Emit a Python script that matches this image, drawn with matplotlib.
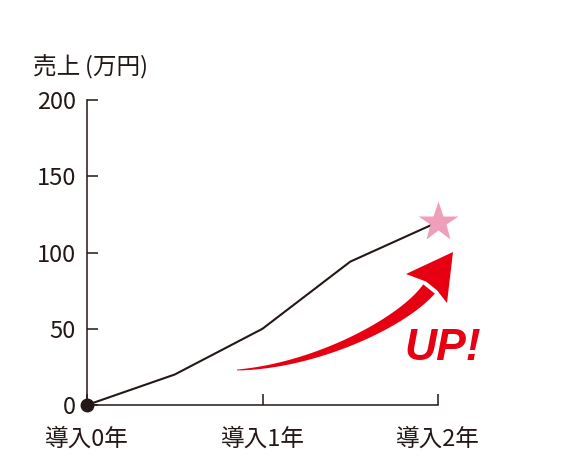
import numpy as np
import matplotlib
matplotlib.use("Agg")
import matplotlib.pyplot as plt
from matplotlib.patches import Polygon
from matplotlib.transforms import Affine2D

plt.rcParams['font.family'] = ['Noto Sans CJK JP', 'DejaVu Sans']

# data
years = [0, 0.5, 1, 1.5, 2]
sales = [0, 20, 50, 94, 120]
xtick_pos = [0, 1, 2]
xtick_labels = ['導入0年', '導入1年', '導入2年']
ytick_pos = [0, 50, 100, 150, 200]
ylabel = '売上\u2009(万円)'

INK = '#231815'
RED = '#e60012'
PINK = '#ef9fba'

W, H = 567, 472
fig = plt.figure(figsize=(W / 100, H / 100), dpi=100)
# axes placed in pixel geometry
L, R, T, B = 87, 438, 100, 405
ax = fig.add_axes([L / W, 1 - B / H, (R - L) / W, (B - T) / H])
ax.set_xlim(0, 2)
ax.set_ylim(0, 200)
for s in ['top', 'right']:
    ax.spines[s].set_visible(False)
for s in ['left', 'bottom']:
    ax.spines[s].set_color(INK)
    ax.spines[s].set_linewidth(1.1)

ax.set_xticks(xtick_pos)
ax.set_xticklabels(xtick_labels)
ax.set_yticks(ytick_pos)
ax.tick_params(axis='both', direction='in', length=8, width=1.1, color=INK,
               labelcolor=INK, labelsize=17)
ax.tick_params(axis='y', pad=8)
ax.tick_params(axis='x', pad=16)

ax.plot(years, sales, color=INK, lw=1.5, zorder=3, clip_on=False)
ax.plot([years[0]], [sales[0]], 'o', color=INK, ms=9, zorder=5, clip_on=False)
ax.plot([years[-1]], [sales[-1]], '*', color=PINK, ms=30, mec='none',
        zorder=6, clip_on=False)

fig.text(33 / W, 1 - 67 / H, ylabel, fontsize=17, color=INK,
         ha='left', va='center')

# decorative tapered "UP" arrow, in pixel space (y down)
pix = Affine2D().scale(1 / W, -1 / H).translate(0, 1) + fig.transFigure
P0 = np.array([237, 370.0])
P1 = np.array([315, 366.0])
P2 = np.array([402, 323.0])
P3 = np.array([429, 289.0])
t = np.linspace(0, 1, 120)[:, None]
curve = (1 - t) ** 3 * P0 + 3 * (1 - t) ** 2 * t * P1 + 3 * (1 - t) * t ** 2 * P2 + t ** 3 * P3
d = 3 * (1 - t) ** 2 * (P1 - P0) + 6 * (1 - t) * t * (P2 - P1) + 3 * t ** 2 * (P3 - P2)
d = d / np.linalg.norm(d, axis=1, keepdims=True)
nrm = np.column_stack([d[:, 1], -d[:, 0]])
wid = (0.8 + 14 * t[:, 0] ** 0.9) / 2
upper = curve + nrm * wid[:, None]
lower = curve - nrm * wid[:, None]
shaft = np.vstack([upper, lower[::-1]])
fig.patches.append(Polygon(shaft, closed=True, transform=pix, fc=RED, ec='none'))
tip = np.array([453, 252.0])
lb = np.array([406, 274.0])
rb = np.array([447, 303.0])
inner_l = P3 + nrm[-1] * 7 + d[-1] * 4
inner_r = P3 - nrm[-1] * 7 + d[-1] * 4
head = np.array([tip, lb, inner_l, inner_r, rb])
fig.patches.append(Polygon(head, closed=True, transform=pix, fc=RED, ec='none'))

fig.text(443 / W, 1 - 348 / H, 'UP!', fontsize=32, color=RED,
         family='Liberation Sans', weight='bold', style='italic',
         ha='center', va='center')

fig.savefig('out.png', dpi=100)
